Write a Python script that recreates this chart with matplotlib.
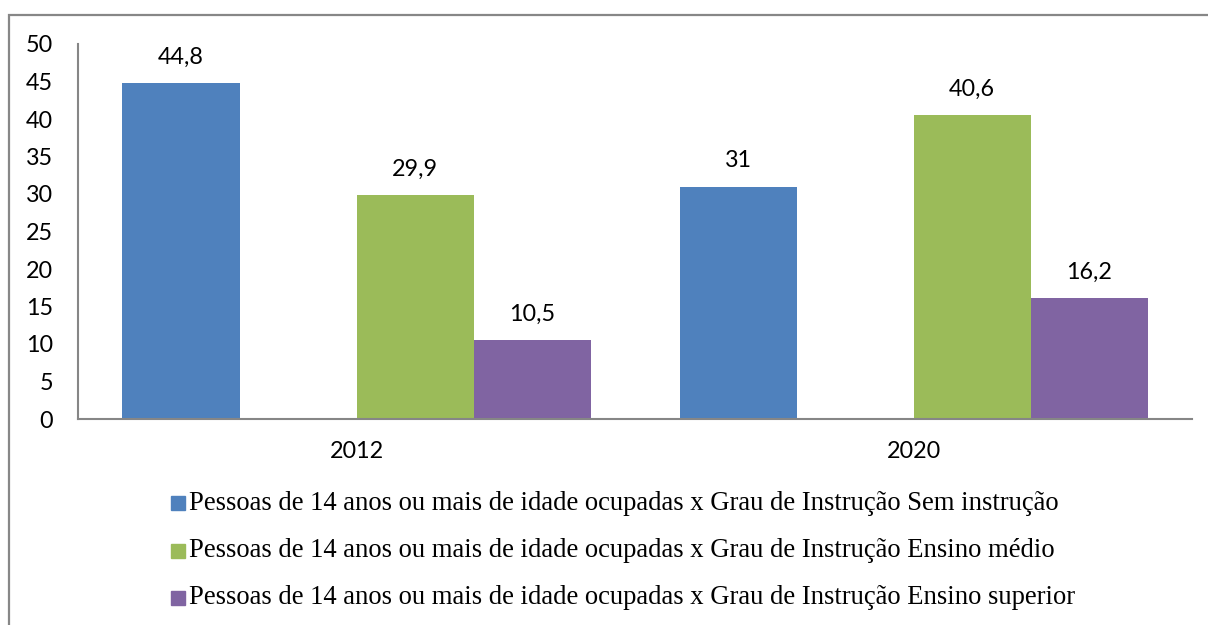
import numpy as np
import matplotlib
matplotlib.use('Agg')
import matplotlib.pyplot as plt
from matplotlib.patches import Rectangle

# data
anos = ['2012', '2020']
sem_instrucao = [44.8, 31]
ensino_medio = [29.9, 40.6]
ensino_superior = [10.5, 16.2]
rotulos = ['Pessoas de 14 anos ou mais de idade ocupadas x Grau de Instrução Sem instrução',
           'Pessoas de 14 anos ou mais de idade ocupadas x Grau de Instrução Ensino médio',
           'Pessoas de 14 anos ou mais de idade ocupadas x Grau de Instrução Ensino superior']
cores = ['#4F81BD', '#9BBB59', '#8064A2']

W, H = 1208, 625
fig = plt.figure(figsize=(W/100, H/100), dpi=100)
ax = fig.add_axes([78/W, 1-419/H, (1192-78)/W, (419-44)/H])

sans = ['Lato', 'DejaVu Sans']
serif = ['Liberation Serif', 'DejaVu Serif']
fs = 16.8

x = np.arange(len(anos))
w = 117/557
# four slots per group, second slot is empty
offs = [-1.5*w, 0.5*w, 1.5*w]
series = [sem_instrucao, ensino_medio, ensino_superior]
for vals, off, c in zip(series, offs, cores):
    bars = ax.bar(x + off, vals, w, color=c, zorder=2)
    for b, v in zip(bars, vals):
        txt = f'{v:g}'.replace('.', ',')
        ax.annotate(txt, (b.get_x() + b.get_width()/2, v), xytext=(0, 13.7),
                    textcoords='offset points', ha='center', va='baseline',
                    fontsize=fs, family=sans)

ax.set_xlim(-0.5, 1.5)
ax.set_ylim(0, 50)
ax.set_yticks(np.arange(0, 51, 5))
ax.set_xticks(x)
ax.set_xticklabels(anos)
for lab in ax.get_xticklabels() + ax.get_yticklabels():
    lab.set_family(sans)
    lab.set_fontsize(fs)
ax.tick_params(axis='y', length=0, pad=18)
ax.tick_params(axis='x', length=0, pad=16)
for s in ['top', 'right']:
    ax.spines[s].set_visible(False)
for s in ['left', 'bottom']:
    ax.spines[s].set_color('#868686')
    ax.spines[s].set_linewidth(1.5)

# legend drawn by hand
for i, (lab, c) in enumerate(zip(rotulos, cores)):
    yc = 503 + i*47.5
    fig.patches.append(Rectangle((171/W, 1-(yc+7)/H), 14/W, 14/H,
                                 transform=fig.transFigure, color=c))
    fig.text(189/W, 1-yc/H, lab, ha='left', va='center', fontsize=19.2,
             family=serif)

# outer frame
fig.patches.append(Rectangle((9/W, -0.1), 1.2, 1 - 15/H + 0.1, transform=fig.transFigure,
                             fill=False, edgecolor='#878787', linewidth=1.6))

fig.savefig('out.png', dpi=100)
